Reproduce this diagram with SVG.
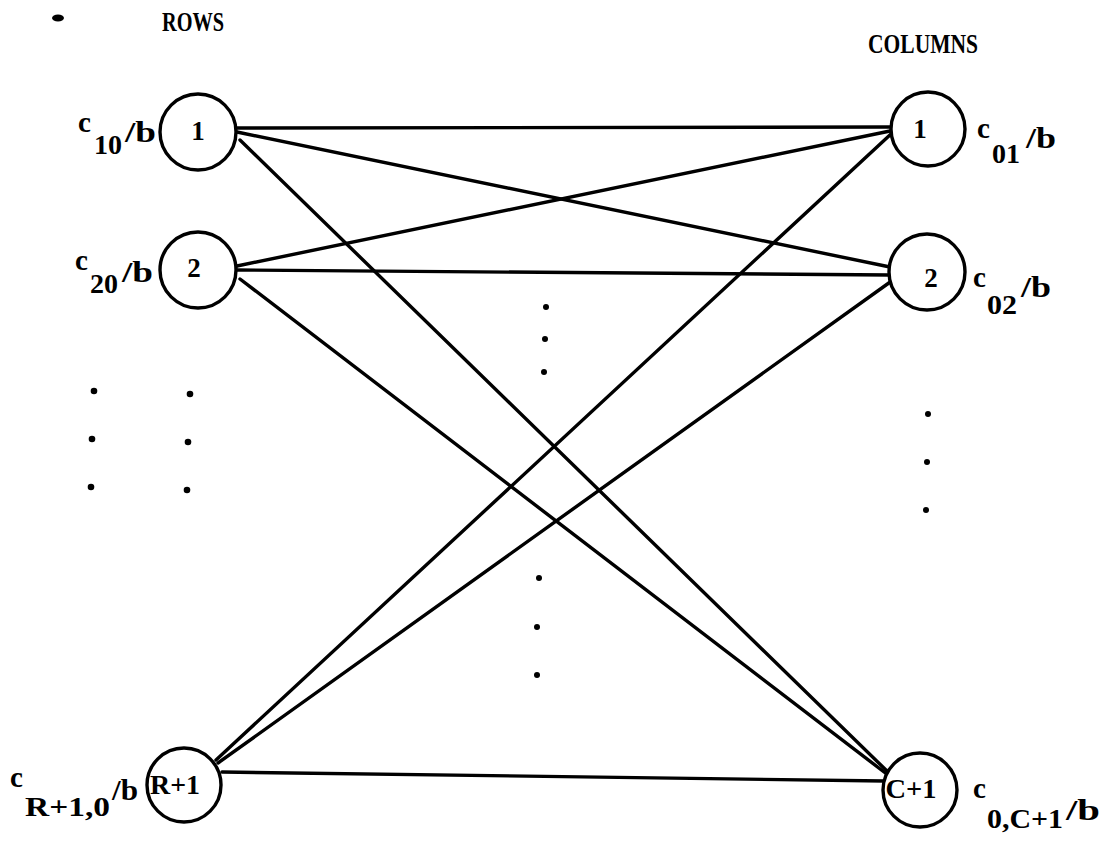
<svg xmlns="http://www.w3.org/2000/svg" width="1108" height="849" viewBox="0 0 1108 849">
<style>
.node circle{fill:#fff;stroke:#000;stroke-width:3.4}
.edge{stroke:#000;stroke-width:3.4;fill:none;stroke-linecap:round}
text{font-family:"Liberation Serif","DejaVu Serif",serif;fill:#000;font-weight:bold}
.hd{font-size:28px}
.nl{font-size:27px;text-anchor:middle}
.lb{font-size:29px}
.sb{font-size:27px}
.dot{fill:#000}
</style>
<rect width="1108" height="849" fill="#fff"/>
<ellipse cx="58" cy="18" rx="6" ry="3.5" fill="#000"/>
<text class="hd" x="162" y="31" textLength="62" lengthAdjust="spacingAndGlyphs">ROWS</text>
<text class="hd" x="868" y="53" textLength="110" lengthAdjust="spacingAndGlyphs">COLUMNS</text>
<g id="connectors">
<line class="edge" x1="237" y1="128" x2="890" y2="127"/>
<line class="edge" x1="237" y1="132" x2="890" y2="267"/>
<line class="edge" x1="240" y1="140" x2="888" y2="772"/>
<line class="edge" x1="237" y1="266" x2="890" y2="131"/>
<line class="edge" x1="237" y1="270" x2="890" y2="275"/>
<line class="edge" x1="240" y1="279" x2="888" y2="775"/>
<line class="edge" x1="216" y1="760" x2="891" y2="134"/>
<line class="edge" x1="218" y1="763" x2="893" y2="280"/>
<line class="edge" x1="222" y1="772" x2="884" y2="781"/>
</g>
<g id="row1" class="node">
<circle cx="198" cy="132" r="38"/>
<text class="nl" x="198" y="140">1</text>
<text class="lb" x="78" y="132">c</text>
<text class="sb" x="94" y="154" textLength="28" lengthAdjust="spacingAndGlyphs">10</text>
<text class="lb" x="125" y="142" textLength="31" lengthAdjust="spacingAndGlyphs">/b</text>
</g>
<g id="row2" class="node">
<circle cx="198" cy="270" r="38"/>
<text class="nl" x="194" y="277">2</text>
<text class="lb" x="75" y="270">c</text>
<text class="sb" x="90" y="293" textLength="28" lengthAdjust="spacingAndGlyphs">20</text>
<text class="lb" x="122" y="282" textLength="31" lengthAdjust="spacingAndGlyphs">/b</text>
</g>
<g id="rowR1" class="node">
<circle cx="184" cy="785" r="37"/>
<text class="nl" x="175" y="794" textLength="50" lengthAdjust="spacingAndGlyphs">R+1</text>
<text class="lb" x="10" y="787">c</text>
<text class="sb" x="25" y="816" textLength="85" lengthAdjust="spacingAndGlyphs">R+1,0</text>
<text class="lb" x="112" y="800" textLength="26" lengthAdjust="spacingAndGlyphs">/b</text>
</g>
<g id="col1" class="node">
<circle cx="928" cy="129" r="37"/>
<text class="nl" x="920" y="138">1</text>
<text class="lb" x="977" y="138">c</text>
<text class="sb" x="992" y="163" textLength="28" lengthAdjust="spacingAndGlyphs">01</text>
<text class="lb" x="1026" y="148" textLength="30" lengthAdjust="spacingAndGlyphs">/b</text>
</g>
<g id="col2" class="node">
<circle cx="927" cy="272" r="38"/>
<text class="nl" x="931" y="287">2</text>
<text class="lb" x="973" y="287">c</text>
<text class="sb" x="987" y="314" textLength="30" lengthAdjust="spacingAndGlyphs">02</text>
<text class="lb" x="1021" y="297" textLength="30" lengthAdjust="spacingAndGlyphs">/b</text>
</g>
<g id="colC1" class="node">
<circle cx="920" cy="790" r="37"/>
<text class="nl" x="911" y="798" textLength="51" lengthAdjust="spacingAndGlyphs">C+1</text>
<text class="lb" x="973" y="798">c</text>
<text class="sb" x="987" y="828" textLength="76" lengthAdjust="spacingAndGlyphs">0,C+1</text>
<text class="lb" x="1066" y="820" textLength="34" lengthAdjust="spacingAndGlyphs">/b</text>
</g>
<g id="ellipses">
<circle class="dot" cx="94" cy="391" r="3.3"/>
<circle class="dot" cx="92" cy="439" r="3.3"/>
<circle class="dot" cx="91" cy="487" r="3.3"/>
<circle class="dot" cx="190" cy="394" r="3.3"/>
<circle class="dot" cx="188" cy="442" r="3.3"/>
<circle class="dot" cx="187" cy="490" r="3.3"/>
<circle class="dot" cx="546" cy="307" r="3"/>
<circle class="dot" cx="545" cy="339" r="3"/>
<circle class="dot" cx="544" cy="372" r="3"/>
<circle class="dot" cx="539" cy="578" r="3"/>
<circle class="dot" cx="537" cy="627" r="3"/>
<circle class="dot" cx="537" cy="675" r="3"/>
<circle class="dot" cx="928" cy="414" r="3"/>
<circle class="dot" cx="927" cy="462" r="3"/>
<circle class="dot" cx="926" cy="510" r="3"/>
</g>
</svg>
